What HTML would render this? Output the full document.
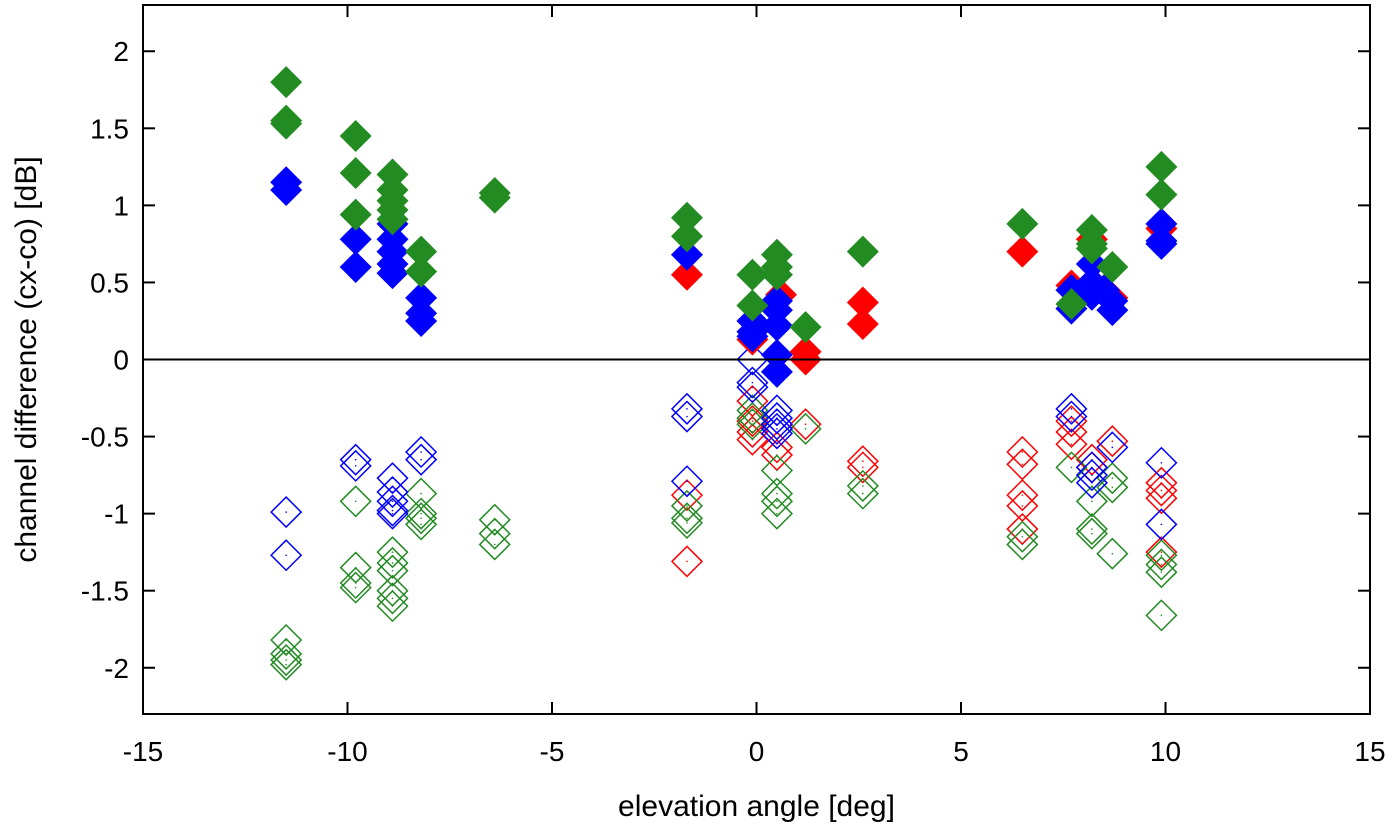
<!DOCTYPE html>
<html><head><meta charset="utf-8"><style>
html,body{margin:0;padding:0;background:#fff;}
svg text{font-family:"Liberation Sans",sans-serif;}
</style></head><body>
<svg id="chart" width="1400" height="834" xmlns="http://www.w3.org/2000/svg">
<g id="grid"></g><g id="marks"></g><g id="axes"></g>
</svg>
<script>
const xTicks=[-15,-10,-5,0,5,10,15];
const yTicks=[-2,-1.5,-1,-0.5,0,0.5,1,1.5,2];
const yTickLabels=["-2","-1.5","-1","-0.5","0","0.5","1","1.5","2"];
const filledRed=[[-1.7,0.55],[-0.1,0.13],[0.6,0.42],[1.2,0.05],[1.2,0.0],[2.6,0.37],[2.6,0.23],[6.5,0.7],[7.7,0.48],[8.2,0.78],[8.7,0.4],[9.9,0.85]];
const filledBlue=[[-11.5,1.15],[-11.5,1.1],[-9.8,0.78],[-9.8,0.6],[-8.9,0.88],[-8.9,0.78],[-8.9,0.7],[-8.9,0.62],[-8.9,0.56],[-8.2,0.4],[-8.2,0.3],[-8.2,0.25],[-1.7,0.68],[-0.1,0.25],[-0.1,0.18],[-0.1,0.15],[0.5,0.38],[0.5,0.32],[0.5,0.22],[0.5,0.03],[0.5,-0.08],[7.7,0.45],[7.7,0.33],[8.2,0.62],[8.2,0.5],[8.2,0.42],[8.5,0.45],[8.7,0.38],[8.7,0.32],[9.9,0.88],[9.9,0.77],[9.9,0.75]];
const filledGreen=[[-11.5,1.8],[-11.5,1.55],[-11.5,1.53],[-9.8,1.45],[-9.8,1.21],[-9.8,0.94],[-8.9,1.2],[-8.9,1.1],[-8.9,1.03],[-8.9,0.97],[-8.9,0.91],[-8.2,0.7],[-8.2,0.57],[-6.4,1.08],[-6.4,1.05],[-1.7,0.92],[-1.7,0.8],[-0.1,0.55],[-0.1,0.35],[0.5,0.68],[0.5,0.6],[0.5,0.55],[1.2,0.21],[2.6,0.7],[6.5,0.88],[7.7,0.36],[8.2,0.84],[8.2,0.75],[8.2,0.72],[8.7,0.6],[9.9,1.25],[9.9,1.07]];
const openBlue=[[-11.5,-0.99],[-11.5,-1.27],[-9.8,-0.65],[-9.8,-0.69],[-8.9,-0.77],[-8.9,-0.86],[-8.9,-0.92],[-8.9,-0.98],[-8.9,-1.0],[-8.2,-0.6],[-8.2,-0.65],[-1.7,-0.32],[-1.7,-0.37],[-1.7,-0.79],[-0.1,0.0],[-0.1,-0.15],[-0.1,-0.18],[0.5,-0.33],[0.5,-0.38],[0.5,-0.42],[0.5,-0.45],[0.5,-0.48],[7.7,-0.32],[7.7,-0.37],[8.2,-0.7],[8.2,-0.75],[8.2,-0.8],[8.7,-0.57],[9.9,-0.67],[9.9,-1.07]];
const openRed=[[-1.7,-0.88],[-1.7,-1.31],[-0.1,-0.27],[-0.1,-0.4],[-0.1,-0.47],[-0.1,-0.52],[0.5,-0.57],[0.5,-0.62],[1.2,-0.42],[2.6,-0.66],[2.6,-0.7],[6.5,-0.6],[6.5,-0.68],[6.5,-0.88],[6.5,-0.95],[6.5,-1.1],[7.7,-0.4],[7.7,-0.47],[7.7,-0.55],[8.2,-0.65],[8.2,-0.7],[8.7,-0.53],[9.9,-0.8],[9.9,-0.85],[9.9,-0.9],[9.9,-1.25]];
const openGreen=[[-11.5,-1.82],[-11.5,-1.91],[-11.5,-1.95],[-11.5,-1.98],[-9.8,-0.92],[-9.8,-1.35],[-9.8,-1.45],[-9.8,-1.48],[-8.9,-1.25],[-8.9,-1.32],[-8.9,-1.37],[-8.9,-1.5],[-8.9,-1.55],[-8.9,-1.6],[-8.2,-0.87],[-8.2,-1.0],[-8.2,-1.03],[-8.2,-1.07],[-6.4,-1.04],[-6.4,-1.13],[-6.4,-1.2],[-1.7,-0.95],[-1.7,-1.03],[-1.7,-1.06],[-0.1,-0.33],[-0.1,-0.38],[-0.1,-0.42],[0.5,-0.72],[0.5,-0.87],[0.5,-0.92],[0.5,-1.0],[1.2,-0.45],[2.6,-0.82],[2.6,-0.87],[6.5,-1.15],[6.5,-1.2],[7.7,-0.7],[8.2,-0.92],[8.2,-1.1],[8.2,-1.13],[8.7,-0.77],[8.7,-0.83],[8.7,-1.26],[9.9,-1.27],[9.9,-1.33],[9.9,-1.38],[9.9,-1.66]];

const L=143,R=1370,T=5,B=714,xmin=-15,xmax=15,ymin=-2.3,ymax=2.3;
const sx=v=>L+(v-xmin)/(xmax-xmin)*(R-L);
const sy=v=>B-(v-ymin)/(ymax-ymin)*(B-T);
const NS="http://www.w3.org/2000/svg";
function mk(tag,attrs,parent){const e=document.createElementNS(NS,tag);for(const k in attrs)e.setAttribute(k,attrs[k]);parent.appendChild(e);return e;}
const marks=document.getElementById('marks'),axes=document.getElementById('axes');

function diamond(x,y,h){return `M${x},${y-h}L${x+h},${y}L${x},${y+h}L${x-h},${y}Z`;}
function drawOpen(data,color,name){data.forEach(d=>{const x=sx(d[0]),y=sy(d[1]);
 const p=mk('path',{d:diamond(x,y,15),fill:'none',stroke:color,'stroke-width':1.5},marks);
 
 
 mk('circle',{cx:x,cy:y,r:0.8,fill:color},marks);});}
function drawFilled(data,color,name){data.forEach(d=>{const x=sx(d[0]),y=sy(d[1]);
 const p=mk('path',{d:diamond(x,y,16),fill:color},marks);
 
 });}
drawOpen(openRed,'#ff0000','open-red-point');
drawOpen(openGreen,'#228b22','open-green-point');
drawOpen(openBlue,'#0000ff','open-blue-point');
drawFilled(filledRed,'#ff0000','filled-red-point');
drawFilled(filledBlue,'#0000ff','filled-blue-point');
drawFilled(filledGreen,'#228b22','filled-green-point');

const zl=mk('line',{x1:L,x2:R,y1:sy(0),y2:sy(0),stroke:'#000','stroke-width':2},axes);


const fr=mk('rect',{x:L,y:T,width:R-L,height:B-T,fill:'none',stroke:'#000','stroke-width':2},axes);


xTicks.forEach(v=>{const x=sx(v);
 mk('line',{x1:x,x2:x,y1:B,y2:B-12,stroke:'#000','stroke-width':2},axes);
 mk('line',{x1:x,x2:x,y1:T,y2:T+12,stroke:'#000','stroke-width':2},axes);
 const t=mk('text',{x:x,y:B+47,'font-size':28,'text-anchor':'middle'},axes);t.textContent=String(v);
 
 });
yTicks.forEach((v,i)=>{const y=sy(v);
 mk('line',{x1:L,x2:L+12,y1:y,y2:y,stroke:'#000','stroke-width':2},axes);
 mk('line',{x1:R,x2:R-12,y1:y,y2:y,stroke:'#000','stroke-width':2},axes);
 const t=mk('text',{x:L-14,y:y+10,'font-size':28,'text-anchor':'end'},axes);t.textContent=yTickLabels[i];
 
 });
const xt=mk('text',{x:(L+R)/2,y:816,'font-size':30,'text-anchor':'middle'},axes);xt.textContent='elevation angle [deg]';


const yt=mk('text',{x:0,y:0,'font-size':30,'text-anchor':'middle',transform:`translate(36,${(T+B)/2}) rotate(-90)`},axes);yt.textContent='channel difference (cx-co) [dB]';


</script>
</body></html>
